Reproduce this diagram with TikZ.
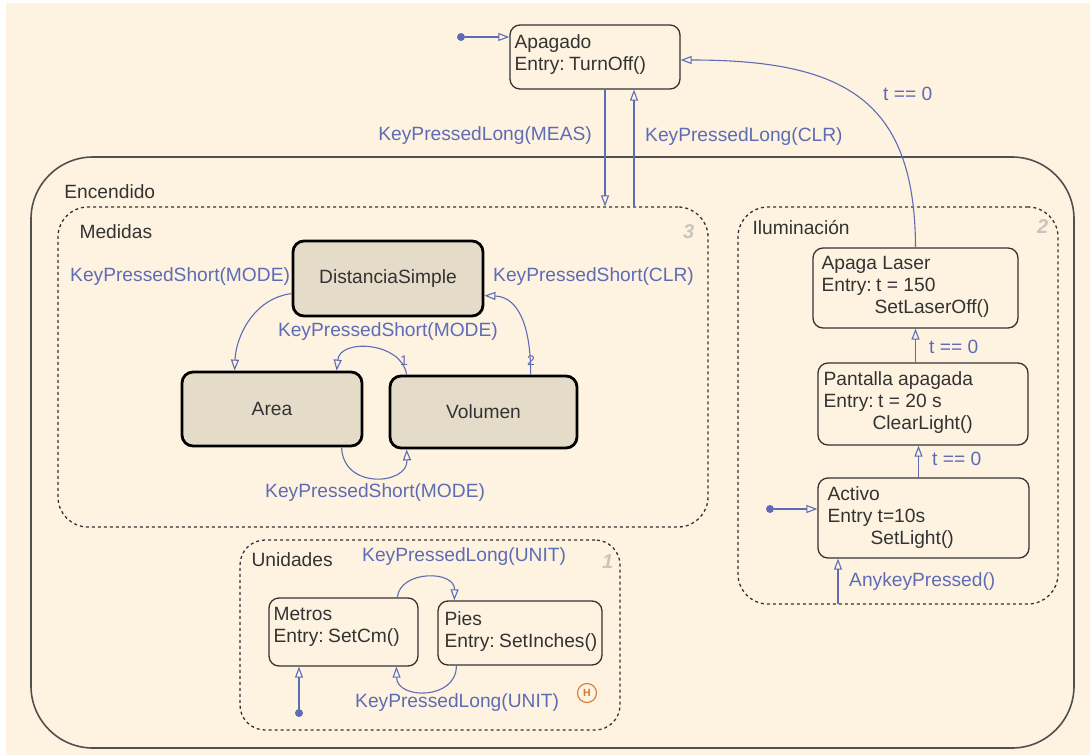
\documentclass[tikz,border=0pt]{standalone}
\usepackage{fontspec}
\setmainfont{Liberation Sans}
\usetikzlibrary{arrows.meta,calc}
\definecolor{bg}{HTML}{FEF3E0}
\definecolor{ink}{HTML}{333333}
\definecolor{frame}{HTML}{505050}
\definecolor{blu}{HTML}{5E6CB6}
\definecolor{statefill}{HTML}{E4DCC9}
\definecolor{numgray}{HTML}{C9C5BD}
\definecolor{hist}{HTML}{D07A30}
\begin{document}
\begin{tikzpicture}[x=1pt,y=-1pt,
  every node/.style={font=\fontsize{19.2}{22}\selectfont, text=ink, inner sep=0pt},
  region/.style={draw=frame, line width=1.6pt, rounded corners=62pt, anchor=center},
  subregion/.style={draw=ink, line width=1.3pt, dash pattern=on 3pt off 3pt, rounded corners=#1, anchor=center},
  plain/.style={draw=ink, line width=1.3pt, rounded corners=10pt, anchor=center},
  heavy/.style={draw=black, line width=2.8pt, fill=statefill, rounded corners=11pt, anchor=center},
  stxt/.style={anchor=north west, align=left},
  rtxt/.style={anchor=west},
  lbl/.style={text=blu},
  num/.style={text=numgray, font=\fontsize{20}{20}\selectfont\bfseries\itshape},
  tnum/.style={text=blu, font=\fontsize{14}{14}\selectfont},
  trans/.style={draw=blu, line width=1.1pt, -{Triangle[open, length=11pt, width=8pt]}},
  initdot/.style={circle, fill=blu, minimum size=8pt}
]
\useasboundingbox (0,0) rectangle (1090,755);
\fill[bg] (6,3) rectangle (1090,755);

% regions
\node[region, minimum width=1043pt, minimum height=591pt] (enc) at (552.5,452.5) {};
\node[rtxt] (encT) at ($(enc.north west)+(34,35)$) {Encendido};
\node[subregion=30pt, minimum width=650pt, minimum height=320pt] (med) at (383,367) {};
\node[stxt] (medT) at ($(med.north west)+(22,18)$) {Medidas};
\node[num] (medN) at ($(med.north east)+(-20,25)$) {3};
\node[subregion=25pt, minimum width=380pt, minimum height=190pt] (uni) at (430,635) {};
\node[stxt] (uniT) at ($(uni.north west)+(12,13)$) {Unidades};
\node[num] (uniN) at ($(uni.north east)+(-13,22)$) {1};
\node[subregion=30pt, minimum width=320pt, minimum height=397pt] (ilu) at (898,405.5) {};
\node[stxt] (iluT) at ($(ilu.north west)+(15,14)$) {Iluminación};
\node[num] (iluN) at ($(ilu.north east)+(-16,20)$) {2};

% Apagado
\node[plain, minimum width=170pt, minimum height=64pt] (apa) at (595,57) {};
\node[stxt] (apaT) at ($(apa.north west)+(5,10)$) {Apagado\\Entry:\kern4.5pt TurnOff()};
\node[initdot] (apaI) at (461,37) {};
\draw[trans] (apaI) -- (apaI -| apa.west);

% Medidas states
\node[heavy, minimum width=190pt, minimum height=75pt] (dist) at (388,278.5) {DistanciaSimple};
\node[heavy, minimum width=180pt, minimum height=74pt] (area) at (272,409) {Area};
\node[heavy, minimum width=187pt, minimum height=72pt] (vol) at (483.5,412) {Volumen};

% Unidades states
\node[plain, minimum width=149pt, minimum height=68pt] (met) at (343.5,632) {};
\node[stxt] (metT) at ($(met.north west)+(5,10)$) {Metros\\Entry:\kern4.5pt SetCm()};
\node[plain, minimum width=164pt, minimum height=64pt] (pies) at (520,633) {};
\node[stxt] (piesT) at ($(pies.north west)+(7,11)$) {Pies\\Entry:\kern4.5pt SetInches()};
\node[initdot] (metI) at (299,713) {};
\draw[trans] (metI) -- (metI |- met.south);
\node[circle, draw=hist, line width=1.1pt, minimum size=19pt, text=hist, font=\fontsize{10.5}{10.5}\selectfont\bfseries] (hst) at (587,693) {H};

% Iluminacion states
\node[plain, minimum width=205pt, minimum height=80pt] (las) at (915.5,288) {};
\node[stxt] (lasT) at ($(las.north west)+(9,9)$) {Apaga Laser\\Entry:\kern4.5pt t = 150\\\hspace*{53pt}SetLaserOff()};
\node[plain, minimum width=210pt, minimum height=82pt] (pan) at (923,404) {};
\node[stxt] (panT) at ($(pan.north west)+(6,9)$) {Pantalla apagada\\Entry:\kern4.5pt t = 20 s\\\hspace*{49pt}ClearLight()};
\node[plain, minimum width=211pt, minimum height=80pt] (act) at (923.5,518) {};
\node[stxt] (actT) at ($(act.north west)+(10,9)$) {Activo\\Entry t=10s\\\hspace*{43pt}SetLight()};
\node[initdot] (actI) at (770,509) {};
\draw[trans] (actI) -- (actI -| act.west);

% transitions Apagado <-> Medidas
\coordinate (m1) at ($(apa.south)+(10,0)$);
\coordinate (m2) at ($(apa.south)+(39,0)$);
\draw[trans] (m1) -- (m1 |- med.north);
\draw[trans] (m2 |- med.north) -- (m2);
\node[lbl, anchor=east] (lMeas) at (592,136) {KeyPressedLong(MEAS)};
\node[lbl, anchor=west] (lClr) at (645,137) {KeyPressedLong(CLR)};

% t == 0 to Apagado
\draw[trans] (las.north) .. controls (915,100) and (845,60) .. (apa.east |- 0,60);
\node[lbl, anchor=west] (lT0) at (883,94) {t == 0};

% Medidas transitions
\draw[trans] ($(dist.north west)+(0,54)$) .. controls (255,298) and (236,335) .. ($(area.north west)+(54,0)$);
\node[lbl, anchor=west] (lm1) at (70,277) {KeyPressedShort(MODE)};
\draw[trans] ($(vol.north west)+(18,0)$) .. controls (402,342) and (340,338) .. ($(area.north west)+(156,0)$);
\node[lbl, anchor=east] (lm2) at (498,332) {KeyPressedShort(MODE)};
\node[tnum] (n1) at (404,361) {1};
\draw[trans] ($(vol.north west)+(142,0)$) .. controls (531,335) and (522,297) .. ($(dist.north east)+(0,56)$);
\node[tnum] (n2) at (531,361) {2};
\node[lbl, anchor=west] (lclr2) at (493,277) {KeyPressedShort(CLR)};
\draw[trans] ($(area.south west)+(161,0)$) .. controls (343,490) and (408,485) .. ($(vol.south west)+(18,0)$);
\node[lbl, anchor=west] (lm3) at (265,493) {KeyPressedShort(MODE)};

% Unidades transitions
\draw[trans] ($(met.north west)+(129,0)$) .. controls (400,570) and (455,570) .. ($(pies.north west)+(17,0)$);
\node[lbl, anchor=west] (lu1) at (362,557) {KeyPressedLong(UNIT)};
\draw[trans] ($(pies.south west)+(19,0)$) .. controls (457,700) and (397,700) .. ($(met.south west)+(128,0)$);
\node[lbl, anchor=west] (lu2) at (355,703) {KeyPressedLong(UNIT)};

% Iluminacion transitions
\draw[trans] (pan.north -| las.south) -- (las.south);
\node[lbl, anchor=west] (lt1) at (929,347) {t == 0};
\coordinate (a2) at ($(act.north)+(-5,0)$);
\draw[trans] (a2) -- (a2 |- pan.south);
\node[lbl, anchor=west] (lt2) at (932,459) {t == 0};
\coordinate (ak) at (838,604);
\draw[trans] (ak) -- (ak |- act.south);
\node[lbl, anchor=west] (lak) at (849,582) {AnykeyPressed()};
\end{tikzpicture}
\end{document}
